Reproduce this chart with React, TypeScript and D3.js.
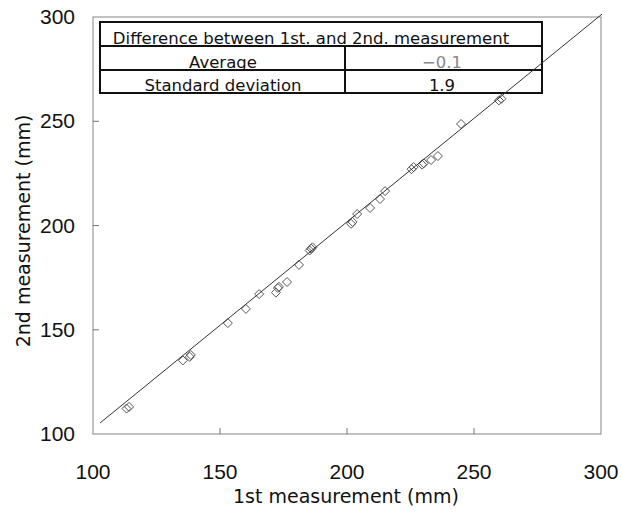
import React from 'react';
import * as d3 from 'd3';

// values
const firstMeasurement = [113.2, 114.2, 135.4, 138.1, 138.5, 153.1, 160.2, 165.4, 172.0, 172.8, 173.2, 176.4, 181.1, 185.3, 185.9, 186.4, 201.6, 202.2, 204.0, 209.1, 213.0, 215.0, 225.4, 226.2, 229.6, 230.2, 233.1, 235.8, 244.9, 259.8, 260.8];
const secondMeasurement = [112.2, 113.0, 135.3, 137.0, 137.9, 153.2, 160.0, 167.1, 167.8, 170.0, 170.6, 172.9, 181.1, 188.0, 188.9, 189.5, 200.8, 201.7, 205.5, 208.4, 212.7, 216.5, 227.0, 228.0, 229.2, 229.8, 231.4, 233.3, 248.7, 260.0, 260.8];
const lineX = [102.8, 300.4];
const lineY = [105.3, 301.4];
const ticks = [100, 150, 200, 250, 300];
const tableTitle = 'Difference between 1st. and 2nd. measurement';
const statNames = ['Average', 'Standard deviation'];
const statValues = ['\u22120.1', '1.9'];

const W = 622;
const H = 516;
const frame = { left: 93, right: 601, top: 17, bottom: 434 };

export default function App() {
  const x = d3.scaleLinear().domain([100, 300]).range([frame.left, frame.right]);
  const y = d3.scaleLinear().domain([100, 300]).range([frame.bottom, frame.top]);
  const font = '"Liberation Sans", Arial, sans-serif';
  const tfont = '"DejaVu Sans", sans-serif';
  const pts = firstMeasurement.map((v, i) => [v, secondMeasurement[i]]);
  const line = d3.line<number>().x(d => x(lineX[d])).y(d => y(lineY[d]));

  // table geometry
  const tb = { x0: 100, x1: 542, mid: 345, rows: [22, 46, 70, 93] };

  return (
    <svg width={W} height={H} style={{ position: 'absolute', left: 0, top: 0, background: '#fff' }}>
      <rect x={frame.left} y={frame.top} width={frame.right - frame.left} height={frame.bottom - frame.top}
        fill="none" stroke="#999" strokeWidth={1.2} />
      {ticks.slice(1, -1).map(t => (
        <g key={'t' + t}>
          <line x1={frame.left} x2={frame.left + 6} y1={y(t)} y2={y(t)} stroke="#777" />
          <line x1={x(t)} x2={x(t)} y1={frame.bottom} y2={frame.bottom - 6} stroke="#777" />
        </g>
      ))}
      {ticks.map(t => (
        <text key={'yl' + t} x={75} y={y(t) + 7} textAnchor="end" fontFamily={font} fontSize={21} fill="#111">{t}</text>
      ))}
      {ticks.map(t => (
        <text key={'xl' + t} x={x(t)} y={479} textAnchor="middle" fontFamily={font} fontSize={21} fill="#111">{t}</text>
      ))}
      <text x={346} y={503} textAnchor="middle" fontFamily={tfont} fontSize={19} fill="#111">1st measurement (mm)</text>
      <text transform={`translate(30,231) rotate(-90)`} textAnchor="middle" fontFamily={tfont} fontSize={19} fill="#111">2nd measurement (mm)</text>

      {pts.map((p, i) => {
        const cx = x(p[0]);
        const cy = y(p[1]);
        const r = 4.5;
        return (
          <path key={'p' + i} d={`M${cx},${cy - r}L${cx + r},${cy}L${cx},${cy + r}L${cx - r},${cy}Z`}
            fill="none" stroke="#555" strokeWidth={1} />
        );
      })}

      <g>
        <rect x={tb.x0} y={tb.rows[0]} width={tb.x1 - tb.x0} height={tb.rows[3] - tb.rows[0]} fill="#fff" stroke="none" />
        <rect x={tb.x0} y={tb.rows[0]} width={tb.x1 - tb.x0} height={tb.rows[3] - tb.rows[0]} fill="none" stroke="#111" strokeWidth={2} />
        <line x1={tb.x0} x2={tb.x1} y1={tb.rows[1]} y2={tb.rows[1]} stroke="#111" strokeWidth={2} />
        <line x1={tb.x0} x2={tb.x1} y1={tb.rows[2]} y2={tb.rows[2]} stroke="#111" strokeWidth={2} />
        <line x1={tb.mid} x2={tb.mid} y1={tb.rows[1]} y2={tb.rows[3]} stroke="#111" strokeWidth={2} />
        <text x={311} y={tb.rows[1] - 2} textAnchor="middle" fontFamily={tfont} fontSize={16.5} fill="#111">{tableTitle}</text>
        {statNames.map((s, i) => (
          <g key={s}>
            <text x={223} y={tb.rows[i + 2] - 2} textAnchor="middle" fontFamily={tfont} fontSize={16.5} fill="#111">{s}</text>
            <text x={442} y={tb.rows[i + 2] - 2} textAnchor="middle" fontFamily={tfont} fontSize={16.5} fill={i === 0 ? '#888' : '#111'}>{statValues[i]}</text>
          </g>
        ))}
      </g>

      <path d={line([0, 1]) || ''} fill="none" stroke="#333" strokeWidth={1} />
    </svg>
  );
}
